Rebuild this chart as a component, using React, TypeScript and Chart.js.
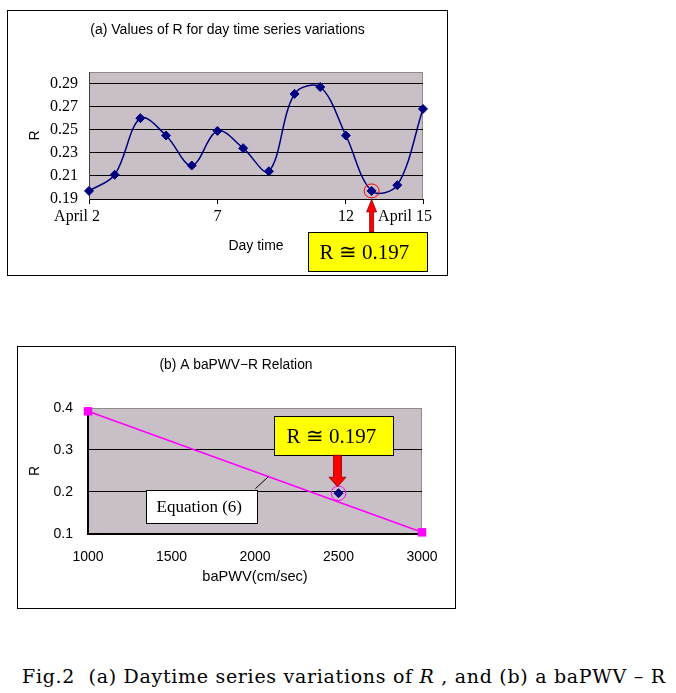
import React, { useEffect, useRef } from 'react';
import { Chart, registerables } from 'chart.js';

Chart.register(...registerables);

// ---------- data: chart (a) ----------
const days = [2, 3, 4, 5, 6, 7, 8, 9, 10, 11, 12, 13, 14, 15];
const dailyR = [0.197, 0.211, 0.26, 0.245, 0.219, 0.249, 0.234, 0.214, 0.281, 0.287, 0.245, 0.197, 0.202, 0.268];
const dayTickValues = [2, 7, 12, 15];
const dayTickLabels = ['April 2', '7', '12', 'April 15'];
const rTickValuesA = [0.19, 0.21, 0.23, 0.25, 0.27, 0.29];
const markedDay = 13;
const markedR = 0.197;

// ---------- data: chart (b) ----------
const eqPwv = [1000, 3000];
const eqR = [0.392, 0.104];
const measuredPwv = [2500];
const measuredR = [0.197];
const pwvTickValues = [1000, 1500, 2000, 2500, 3000];
const rTickValuesB = [0.1, 0.2, 0.3, 0.4];
const equationLeaderPwv = 2080;

const annotationText = 'R \u2245 0.197';
const equationLabel = 'Equation (6)';

// trailing spaces shift the two end labels leftwards (as in the source figure)
const labelTrail = [6, 0, 0, 9];

const SANS = 'Liberation Sans';
const SERIF = 'Liberation Serif';

const plotBackground = {
  id: 'plotBackground',
  beforeDraw(chart: any, _args: any, opts: any) {
    const { ctx, chartArea } = chart;
    const { left, top, right, bottom } = chartArea;
    ctx.save();
    ctx.fillStyle = opts.color;
    ctx.fillRect(left, top, right - left, bottom - top);
    ctx.strokeStyle = opts.border;
    ctx.lineWidth = 1;
    ctx.strokeRect(Math.round(left) + 0.5, Math.round(top) + 0.5, Math.round(right - left) - 1, Math.round(bottom - top));
    ctx.restore();
  },
};

function drawArrow(ctx: any, x: number, tipY: number, headY: number, tailY: number, shaftW: number, headW: number) {
  ctx.beginPath();
  ctx.moveTo(x, tipY);
  ctx.lineTo(x + headW / 2, headY);
  ctx.lineTo(x + shaftW / 2, headY);
  ctx.lineTo(x + shaftW / 2, tailY);
  ctx.lineTo(x - shaftW / 2, tailY);
  ctx.lineTo(x - shaftW / 2, headY);
  ctx.lineTo(x - headW / 2, headY);
  ctx.closePath();
  ctx.fillStyle = '#ff0000';
  ctx.fill();
  ctx.strokeStyle = '#8a0000';
  ctx.lineWidth = 0.8;
  ctx.stroke();
}

function drawBox(ctx: any, left: number, top: number, w: number, h: number, fill: string, text: string, size: number, inset: number) {
  const l = Math.round(left) + 0.5;
  const t = Math.round(top) + 0.5;
  ctx.fillStyle = fill;
  ctx.fillRect(l, t, w, h);
  ctx.strokeStyle = '#000';
  ctx.lineWidth = 1;
  ctx.strokeRect(l, t, w, h);
  ctx.fillStyle = '#000';
  ctx.font = `${size}px "${SERIF}"`;
  ctx.textBaseline = 'middle';
  ctx.textAlign = 'left';
  ctx.fillText(text, l + inset, t + h / 2 + 1);
}

const markerA = {
  id: 'markerA',
  afterDraw(chart: any) {
    const ctx = chart.ctx;
    const x = chart.scales.x.getPixelForValue(markedDay);
    const y = chart.scales.y.getPixelForValue(markedR);
    ctx.save();
    ctx.strokeStyle = '#ff0000';
    ctx.lineWidth = 1;
    ctx.beginPath();
    ctx.ellipse(x, y, 7.5, 7, 0, 0, Math.PI * 2);
    ctx.stroke();
    drawArrow(ctx, x, y + 8.5, y + 21, y + 41, 4, 10);
    drawBox(ctx, x - 64, y + 41, 119, 39, '#ffff00', annotationText, 21, 11);
    ctx.restore();
  },
};

const markerB = {
  id: 'markerB',
  afterDraw(chart: any) {
    const ctx = chart.ctx;
    const xs = chart.scales.x;
    const ys = chart.scales.y;
    const x = xs.getPixelForValue(measuredPwv[0]);
    const y = ys.getPixelForValue(measuredR[0]);
    ctx.save();
    ctx.strokeStyle = '#ff00ff';
    ctx.lineWidth = 1;
    ctx.beginPath();
    ctx.arc(x, y, 7.3, 0, Math.PI * 2);
    ctx.stroke();
    drawBox(ctx, x - 65, y - 77, 119, 39, '#ffff00', annotationText, 21, 12);
    drawArrow(ctx, x - 1, y - 6.5, y - 16, y - 38, 8, 17);

    // leader line + "Equation (6)" label
    const f = (equationLeaderPwv - eqPwv[0]) / (eqPwv[1] - eqPwv[0]);
    const lr = eqR[0] + f * (eqR[1] - eqR[0]);
    const lx = xs.getPixelForValue(equationLeaderPwv);
    const ly = ys.getPixelForValue(lr);
    ctx.strokeStyle = '#000';
    ctx.lineWidth = 1;
    ctx.beginPath();
    ctx.moveTo(lx - 13, ly + 12);
    ctx.lineTo(lx, ly);
    ctx.stroke();
    drawBox(ctx, lx - 122, ly + 13, 111, 33, '#ffffff', equationLabel, 17, 10);
    ctx.restore();
  },
};

const setPad = (s: any, right: number) => {
  s.paddingLeft = 0;
  s.paddingRight = right;
  s.paddingTop = 0;
  s.paddingBottom = 0;
};

const configA = (): any => ({
  type: 'line',
  data: {
    datasets: [
      {
        data: days.map((d, i) => ({ x: d, y: dailyR[i] })),
        borderColor: '#000080',
        backgroundColor: '#000080',
        borderWidth: 1.5,
        tension: 0.35,
        pointStyle: 'rectRot',
        pointRadius: 4.5,
        pointBorderWidth: 1,
        pointBackgroundColor: '#000080',
        pointBorderColor: '#000080',
        fill: false,
        clip: false,
      },
    ],
  },
  options: {
    responsive: false,
    animation: false,
    events: [],
    layout: { padding: 0 },
    plugins: {
      legend: { display: false },
      tooltip: { enabled: false },
      title: {
        display: true,
        text: '(a) Values of R for day time series variations',
        color: '#000',
        font: { family: SANS, size: 14, weight: 'normal' },
        padding: { top: 11.6, bottom: 33.6 },
      },
      plotBackground: { color: '#c8bfc7', border: '#8c8c8c' },
    },
    scales: {
      x: {
        type: 'linear',
        min: days[0],
        max: days[days.length - 1],
        afterBuildTicks: (s: any) => {
          s.ticks = dayTickValues.map((v) => ({ value: v }));
        },
        afterFit: (s: any) => {
          s.height = 77;
          setPad(s, 25);
        },
        grid: { drawOnChartArea: false, drawTicks: true, tickLength: 5, color: '#000' },
        border: { color: '#000', width: 1 },
        ticks: {
          autoSkip: false,
          maxRotation: 0,
          color: '#000',
          padding: 3,
          font: { family: SERIF, size: 16 },
          callback: (_v: any, i: number) => dayTickLabels[i] + '\u00a0'.repeat(labelTrail[i]),
        },
        title: {
          display: true,
          text: 'Day time',
          color: '#000',
          font: { family: SANS, size: 14 },
          padding: { top: 0, bottom: 21.6 },
        },
      },
      y: {
        min: 0.19,
        max: 0.3,
        afterBuildTicks: (s: any) => {
          s.ticks = rTickValuesA.map((v) => ({ value: v }));
        },
        afterFit: (s: any) => {
          s.width = 82;
          setPad(s, 0);
        },
        grid: { color: '#000', drawTicks: false, lineWidth: 1 },
        border: { color: '#404040', width: 1 },
        ticks: {
          color: '#000',
          padding: 11,
          font: { family: SERIF, size: 16 },
          callback: (v: any) => Number(v).toFixed(2),
        },
        title: {
          display: true,
          text: 'R',
          color: '#000',
          font: { family: SANS, size: 14 },
          padding: { top: 19.6, bottom: 0 },
        },
      },
    },
  },
  plugins: [plotBackground, markerA],
});

const configB = (): any => ({
  type: 'line',
  data: {
    datasets: [
      {
        data: eqPwv.map((p, i) => ({ x: p, y: eqR[i] })),
        borderColor: '#ff00ff',
        backgroundColor: '#ff00ff',
        borderWidth: 1.5,
        pointStyle: 'rect',
        pointRadius: 6,
        pointBorderWidth: 0,
        pointBackgroundColor: '#ff00ff',
        fill: false,
        clip: false,
      },
      {
        data: measuredPwv.map((p, i) => ({ x: p, y: measuredR[i] })),
        showLine: false,
        borderColor: '#000080',
        backgroundColor: '#000080',
        pointStyle: 'rectRot',
        pointRadius: 4.5,
        pointBorderWidth: 1,
        pointBackgroundColor: '#000080',
        pointBorderColor: '#000080',
        clip: false,
      },
    ],
  },
  options: {
    responsive: false,
    animation: false,
    events: [],
    layout: { padding: 0 },
    plugins: {
      legend: { display: false },
      tooltip: { enabled: false },
      title: {
        display: true,
        text: '(b) A baPWV\u2212R Relation',
        color: '#000',
        font: { family: SANS, size: 13.8, weight: 'normal' },
        padding: { top: 10.7, bottom: 34.7 },
      },
      plotBackground: { color: '#c8bfc7', border: '#8c8c8c' },
    },
    scales: {
      x: {
        type: 'linear',
        min: pwvTickValues[0],
        max: pwvTickValues[pwvTickValues.length - 1],
        afterBuildTicks: (s: any) => {
          s.ticks = pwvTickValues.map((v) => ({ value: v }));
        },
        afterFit: (s: any) => {
          s.height = 74;
          setPad(s, 33);
        },
        grid: { drawOnChartArea: false, drawTicks: false },
        border: { color: '#000', width: 1.5 },
        ticks: {
          autoSkip: false,
          maxRotation: 0,
          color: '#000',
          padding: 14.6,
          font: { family: SANS, size: 14 },
          callback: (v: any) => String(v),
        },
        title: {
          display: true,
          text: 'baPWV(cm/sec)',
          color: '#000',
          font: { family: SANS, size: 14.6 },
          padding: { top: 0, bottom: 22.2 },
        },
      },
      y: {
        min: rTickValuesB[0],
        max: rTickValuesB[rTickValuesB.length - 1],
        afterBuildTicks: (s: any) => {
          s.ticks = rTickValuesB.map((v) => ({ value: v }));
        },
        afterFit: (s: any) => {
          s.width = 71;
          setPad(s, 0);
        },
        grid: {
          drawTicks: false,
          lineWidth: 1,
          color: (c: any) => (c.tick && c.tick.value === rTickValuesB[rTickValuesB.length - 1] ? 'rgba(0,0,0,0)' : '#000'),
        },
        border: { color: '#000', width: 2 },
        ticks: {
          color: '#000',
          padding: 15,
          font: { family: SANS, size: 14 },
          callback: (v: any) => Number(v).toFixed(1),
        },
        title: {
          display: true,
          text: 'R',
          color: '#000',
          font: { family: SANS, size: 14 },
          padding: { top: 9.6, bottom: 0 },
        },
      },
    },
  },
  plugins: [plotBackground, markerB],
});

function ChartCanvas({ make, left, top, width, height }: any) {
  const ref = useRef<HTMLCanvasElement | null>(null);
  useEffect(() => {
    const chart = new Chart(ref.current as HTMLCanvasElement, make());
    return () => chart.destroy();
  }, []);
  return (
    <canvas
      ref={ref}
      width={width}
      height={height}
      style={{ position: 'absolute', left, top, width, height, display: 'block' }}
    />
  );
}

function Frame({ left, top, width, height }: any) {
  return (
    <div
      style={{
        position: 'absolute',
        left,
        top,
        width,
        height,
        boxSizing: 'border-box',
        border: '1px solid #000',
      }}
    />
  );
}

export default function App() {
  return (
    <div style={{ position: 'absolute', left: 0, top: 0, width: 676, height: 693, background: '#fff', overflow: 'hidden' }}>
      <Frame left={7} top={10} width={441} height={266} />
      <ChartCanvas make={configA} left={7} top={10} width={441} height={266} />
      <Frame left={17} top={346} width={439} height={263} />
      <ChartCanvas make={configB} left={17} top={346} width={438} height={262} />
      <div
        style={{
          position: 'absolute',
          left: 22,
          top: 665,
          whiteSpace: 'pre',
          fontFamily: '"DejaVu Serif", serif',
          fontSize: 19,
          letterSpacing: '0.7px',
          lineHeight: '22px',
          color: '#000',
        }}
      >
        {'Fig.2  (a) Daytime series variations of '}
        <i>R</i>
        {' , and (b) a baPWV \u2013 R'}
      </div>
    </div>
  );
}
